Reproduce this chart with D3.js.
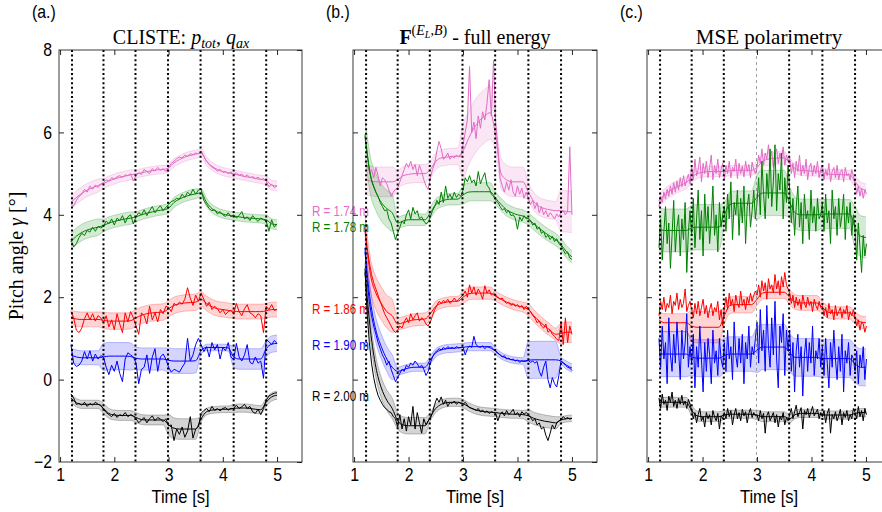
<!DOCTYPE html>
<html>
<head>
<meta charset="utf-8">
<script src="https://cdn.jsdelivr.net/npm/d3@7"></script>
<style>
body { margin: 0; background: #fff; }
svg { display: block; }
</style>
</head>
<body>
<script>
// 时间分段（虚线位置）
const dotTimes = [1.22, 1.8, 2.39, 2.99, 3.59, 4.2, 4.8];
const xTicks = [1, 2, 3, 4, 5];
const yTicks = [-2, 0, 2, 4, 6, 8];
const radii = ["R = 1.74 m", "R = 1.78 m", "R = 1.86 m", "R = 1.90 m", "R = 2.00 m"];
const radiusLabelY = [4.1, 3.71, 1.72, 0.83, -0.39];
const colors = ["#e36bc6", "#008000", "#ff0000", "#0000ff", "#000000"];

// 采样：起点与步长
const rawA = { t0: 1.2, dt: 0.05 };
const rawB = { t0: 1.2, dt: 0.04 };
const rawC = { t0: 1.2, dt: 0.03 };
const fitTimes = d3.range(39).map(i => 1.2 + 0.1 * i);

// ---------- (a.) CLISTE ----------
const aPinkRaw = [4.25,4.22,4.35,4.45,4.5,4.62,4.55,4.7,4.62,4.72,4.66,4.75,
  4.78,4.85,4.82,4.9,4.87,4.92,4.95,4.9,4.97,4.95,5.0,4.82,
  4.95,5.02,4.98,5.1,5.05,5.0,5.12,5.06,5.15,5.08,5.12,5.05,
  5.15,5.25,5.3,5.36,5.4,5.38,5.45,5.42,5.48,5.46,5.5,5.48,
  5.55,5.42,5.3,5.22,5.15,5.12,5.06,5.1,5.03,5.05,5.0,5.04,
  4.98,5.02,4.96,4.99,4.92,4.97,4.9,4.93,4.88,4.91,4.85,4.88,
  4.82,4.68,4.74,4.66,4.7];
const aPinkFit = [4.3,4.42,4.52,4.6,4.66,4.71,4.76,4.82,4.87,4.91,4.94,4.97,4.99,5.02,5.05,5.07,5.09,5.1,5.14,5.26,5.34,5.4,5.44,5.47,5.5,5.3,5.18,5.1,5.05,5.02,4.99,4.96,4.93,4.91,4.88,4.86,4.83,4.72,4.7];
const aPinkBand = [0.16, 0.12, 0.1, 0.1, 0.1, 0.1, 0.12];

const aGreenRaw = [3.4,3.22,3.3,3.45,3.55,3.5,3.62,3.58,3.7,3.6,3.72,3.68,
  3.72,3.85,3.78,3.9,3.75,3.92,3.86,3.98,3.8,3.95,4.0,3.78,
  3.95,4.05,4.0,4.12,3.98,4.1,4.2,4.05,4.15,4.22,4.1,4.18,
  4.25,4.32,4.35,4.4,4.38,4.5,4.42,4.55,4.48,4.62,4.5,4.6,
  4.62,4.35,4.25,4.15,4.1,4.12,4.02,4.08,4.0,3.96,4.05,3.95,
  4.0,3.92,3.98,4.08,3.9,3.95,3.86,3.98,3.9,3.84,3.92,3.88,
  3.85,3.6,3.88,3.7,3.78];
const aGreenFit = [3.35,3.48,3.57,3.63,3.67,3.7,3.74,3.8,3.84,3.87,3.9,3.92,3.95,4.0,4.04,4.07,4.1,4.12,4.16,4.3,4.38,4.44,4.48,4.51,4.53,4.3,4.15,4.07,4.02,3.99,3.97,3.95,3.93,3.92,3.91,3.9,3.88,3.78,3.76];
const aGreenBand = [0.2, 0.15, 0.12, 0.12, 0.1, 0.1, 0.12];

const aRedRaw = [1.65,1.5,1.2,1.14,1.25,1.48,1.62,1.45,1.6,1.42,1.55,1.5,
  1.38,1.55,1.28,1.45,1.21,1.6,1.35,1.14,1.62,1.4,1.65,1.5,
  1.3,1.1,1.62,1.55,1.35,1.78,1.45,1.62,1.4,1.7,1.6,1.78,
  1.75,1.65,1.85,1.8,1.88,1.83,1.95,2.23,1.98,1.8,2.05,1.9,
  2.1,1.95,1.78,1.88,1.7,1.78,1.72,1.62,1.7,1.58,1.65,1.68,
  1.6,1.85,1.65,1.55,1.72,1.82,1.62,1.58,1.5,1.6,1.55,1.14,
  1.78,1.7,1.82,1.68,1.7];
const aRedFit = [1.5,1.47,1.46,1.46,1.46,1.46,1.44,1.42,1.42,1.42,1.42,1.43,1.5,1.56,1.6,1.62,1.63,1.64,1.72,1.8,1.84,1.86,1.87,1.88,1.95,1.85,1.77,1.72,1.7,1.68,1.66,1.65,1.65,1.65,1.65,1.65,1.67,1.7,1.7];
const aRedBand = [0.18, 0.2, 0.2, 0.2, 0.18, 0.18, 0.18];

const aBlueRaw = [0.85,0.4,0.32,0.35,0.45,0.68,0.5,0.7,0.45,0.62,0.5,0.58,
  0.55,0.3,0.12,0.35,0.2,0.45,0.15,-0.05,0.5,0.65,0.6,0.55,
  0.4,-0.1,0.25,0.3,0.6,0.15,0.55,0.75,0.2,0.55,0.62,0.5,
  0.3,0.18,0.25,0.22,0.18,0.3,0.4,1.0,0.45,0.6,0.85,1.0,
  0.85,0.68,0.8,0.55,0.9,0.72,0.85,0.5,0.78,0.7,0.9,0.55,
  0.48,0.88,0.55,0.45,0.6,0.85,0.42,0.38,0.55,0.4,0.45,0.03,
  0.98,0.92,0.85,0.95,0.88];
const aBlueFit = [0.6,0.55,0.53,0.53,0.53,0.53,0.55,0.57,0.57,0.57,0.57,0.56,0.52,0.5,0.5,0.5,0.5,0.5,0.47,0.45,0.45,0.45,0.45,0.46,0.7,0.78,0.78,0.78,0.78,0.77,0.55,0.5,0.5,0.5,0.5,0.5,0.75,0.86,0.88];
const aBlueBand = [0.17, 0.33, 0.27, 0.3, 0.08, 0.25, 0.2];

const aBlackRaw = [-0.35,-0.45,-0.6,-0.58,-0.62,-0.55,-0.65,-0.58,-0.62,-0.55,-0.6,-0.62,
  -0.72,-0.8,-0.85,-0.9,-0.82,-0.92,-0.85,-0.88,-0.8,-0.9,-0.85,-0.88,
  -0.95,-1.05,-0.98,-0.92,-1.05,-0.95,-0.88,-1.0,-0.92,-0.96,-1.02,-0.95,
  -1.12,-1.1,-1.48,-1.2,-1.33,-1.15,-1.4,-1.25,-0.9,-1.42,-1.2,-1.15,
  -0.82,-0.75,-0.7,-0.78,-0.65,-0.75,-0.7,-0.76,-0.7,-0.68,-0.74,-0.7,
  -0.7,-0.62,-0.7,-0.66,-0.6,-0.7,-0.65,-0.78,-0.82,-0.72,-0.85,-0.7,
  -0.5,-0.4,-0.36,-0.33,-0.32];
const aBlackFit = [-0.45,-0.56,-0.6,-0.6,-0.6,-0.6,-0.7,-0.82,-0.86,-0.87,-0.87,-0.87,-0.92,-0.97,-0.98,-0.98,-0.98,-0.98,-1.1,-1.18,-1.2,-1.2,-1.2,-1.2,-0.95,-0.78,-0.74,-0.73,-0.72,-0.72,-0.7,-0.69,-0.69,-0.7,-0.72,-0.73,-0.55,-0.42,-0.38];
const aBlackBand = [0.1, 0.12, 0.12, 0.25, 0.08, 0.1, 0.1];

// ---------- (b.) full energy ----------
const bPinkRaw = [5.3,5.2,5.05,5.1,4.9,5.15,4.95,4.7,4.9,4.85,4.75,4.6,4.45,4.55,4.62,
  4.65,4.8,4.95,5.1,5.25,5.15,5.3,5.1,5.22,4.95,5.2,5.05,4.85,4.7,4.62,
  4.9,5.1,5.25,5.55,5.78,5.6,5.35,5.4,5.5,5.35,5.42,5.38,5.45,5.4,5.42,
  5.7,6.0,6.3,7.6,6.0,6.25,5.85,6.4,6.1,6.5,6.3,6.7,7.28,6.4,7.75,
  6.2,5.65,4.9,4.7,4.55,4.8,4.6,4.85,4.55,4.45,4.7,4.5,4.65,4.4,4.55,
  4.4,4.25,4.35,4.15,4.3,4.05,4.2,4.0,4.1,3.95,4.05,3.98,3.9,4.02,3.95,
  4.05,4.1,4.0,4.08,5.65,4.0];
const bPinkFit = [4.85,4.82,4.8,4.8,4.8,4.8,4.85,4.95,4.98,5.0,5.0,5.0,5.1,5.3,5.38,5.4,5.42,5.42,5.55,5.85,6.1,6.28,6.4,6.48,5.9,5.0,4.85,4.8,4.8,4.8,4.55,4.32,4.2,4.15,4.12,4.1,4.1,4.08,4.07];
const bPinkBand = [0.36, 0.22, 0.2, 0.65, 0.36, 0.22, 0.5];

const bGreenRaw = [5.95,5.5,5.1,4.85,4.7,4.55,4.45,4.3,4.2,4.1,4.12,3.9,3.8,3.6,3.4,
  3.55,3.7,3.85,3.78,4.0,4.12,3.9,4.18,4.02,4.1,3.9,3.95,3.85,3.78,3.82,
  3.95,4.1,4.2,4.35,4.25,4.55,4.3,4.7,4.4,4.5,4.38,4.55,4.42,4.5,4.45,
  4.6,4.9,4.8,4.95,4.78,4.85,4.7,5.05,4.75,4.9,5.02,4.72,4.65,4.5,4.45,
  4.35,4.3,4.2,4.12,4.15,4.05,4.1,3.98,4.0,3.92,3.65,3.95,3.85,3.98,3.9,
  3.92,3.85,3.75,3.8,3.65,3.7,3.55,3.6,3.45,3.5,3.4,3.48,3.35,3.42,3.3,
  3.25,3.15,3.05,3.1,2.95,2.92];
const bGreenFit = [5.9,4.95,4.55,4.3,4.15,4.05,3.8,3.85,3.88,3.88,3.88,3.88,4.05,4.25,4.33,4.37,4.38,4.38,4.48,4.55,4.56,4.56,4.56,4.56,4.4,4.25,4.12,4.05,4.0,3.97,3.9,3.78,3.67,3.57,3.48,3.4,3.28,3.1,2.98];
const bGreenBand = [0.45, 0.14, 0.14, 0.22, 0.15, 0.15, 0.15];

const bRedRaw = [3.7,3.2,2.85,2.55,2.35,2.2,2.05,1.9,1.75,1.6,1.5,1.4,1.3,1.2,1.14,
  1.2,1.3,1.25,1.4,1.5,1.38,1.6,1.45,1.55,1.62,1.42,1.5,1.45,1.35,1.3,
  1.4,1.55,1.7,1.8,1.9,1.85,1.92,1.88,1.95,1.85,1.9,1.98,1.9,1.95,2.0,
  2.05,2.15,2.0,2.3,2.1,2.25,2.05,2.2,2.1,1.95,2.28,2.1,2.18,2.05,2.1,
  2.05,2.0,1.95,1.98,1.9,1.85,1.88,1.8,1.85,1.78,1.82,1.75,1.8,1.7,1.78,
  1.72,1.65,1.55,1.5,1.38,1.42,1.3,1.25,1.35,1.15,1.2,1.1,1.05,0.98,0.95,
  1.4,0.85,1.5,0.9,1.3,1.1];
const bRedFit = [3.6,2.55,2.1,1.85,1.65,1.55,1.35,1.38,1.42,1.45,1.46,1.47,1.6,1.78,1.85,1.88,1.9,1.9,2.0,2.08,2.1,2.1,2.1,2.1,2.02,1.95,1.88,1.83,1.79,1.76,1.7,1.55,1.42,1.3,1.2,1.1,1.12,1.15,1.15];
const bRedBand = [0.4, 0.15, 0.12, 0.15, 0.12, 0.15, 0.25];

const bBlueRaw = [3.2,2.4,1.9,1.55,1.3,1.1,0.9,0.75,0.6,0.5,0.35,0.45,0.25,0.1,-0.05,
  0.05,0.15,0.25,0.2,0.35,0.3,0.4,0.35,0.45,0.38,0.3,0.35,0.25,0.1,0.2,
  0.4,0.55,0.65,0.7,0.75,0.72,0.78,0.74,0.8,0.76,0.78,0.75,0.8,0.77,0.78,
  0.8,0.6,0.75,0.82,0.78,1.05,0.85,0.8,0.78,0.82,0.75,0.8,0.78,0.76,0.72,
  0.7,0.65,0.6,0.55,0.58,0.5,0.52,0.48,0.5,0.45,0.48,0.42,0.46,0.44,0.45,
  0.46,0.42,0.45,0.4,0.44,0.2,0.08,0.3,0.45,0.0,-0.2,0.05,-0.1,-0.18,0.1,
  0.45,0.4,0.35,0.3,0.28,0.22];
const bBlueFit = [3.1,1.9,1.2,0.8,0.5,0.3,0.2,0.24,0.28,0.3,0.3,0.3,0.48,0.65,0.72,0.75,0.76,0.77,0.78,0.8,0.8,0.8,0.8,0.8,0.68,0.58,0.52,0.48,0.46,0.45,0.47,0.48,0.48,0.48,0.48,0.48,0.45,0.35,0.28];
const bBlueBand = [0.3, 0.1, 0.1, 0.1, 0.08, 0.45, 0.1];

const bBlackRaw = [2.7,1.6,0.9,0.4,0.05,-0.2,-0.38,-0.5,-0.6,-0.68,-0.72,-0.78,-0.8,-0.9,-0.95,
  -1.15,-0.85,-1.2,-0.95,-1.25,-0.9,-1.1,-0.65,-1.2,-0.8,-1.05,-1.3,-0.95,-1.1,-1.0,
  -0.95,-0.8,-0.6,-0.45,-0.55,-0.42,-0.6,-0.5,-0.65,-0.55,-0.58,-0.52,-0.6,-0.55,-0.58,
  -0.6,-0.55,-0.62,-0.68,-0.7,-0.72,-0.75,-0.7,-0.78,-0.74,-0.8,-0.76,-0.82,-0.78,-0.8,
  -0.82,-1.0,-0.85,-0.78,-0.88,-0.75,-0.85,-0.8,-0.72,-0.86,-0.8,-0.9,-0.78,-0.84,-0.8,
  -0.85,-0.92,-1.0,-0.95,-1.1,-1.05,-1.2,-1.15,-1.35,-1.48,-1.3,-1.1,-1.2,-1.05,-1.0,
  -0.98,-0.9,-0.95,-0.92,-0.96,-0.94];
const bBlackFit = [2.6,1.2,0.3,-0.2,-0.5,-0.7,-1.0,-1.1,-1.12,-1.12,-1.12,-1.12,-0.9,-0.7,-0.6,-0.56,-0.55,-0.55,-0.58,-0.66,-0.72,-0.76,-0.78,-0.79,-0.8,-0.82,-0.83,-0.84,-0.84,-0.85,-0.88,-0.94,-0.98,-1.01,-1.03,-1.05,-0.98,-0.95,-0.94];
const bBlackBand = [0.25, 0.2, 0.1, 0.1, 0.1, 0.15, 0.08];

// ---------- (c.) MSE ----------
const cPinkRaw = [4.2,4.45,4.3,4.55,4.38,4.62,4.45,4.7,4.5,4.78,4.55,4.82,4.6,4.9,4.68,4.95,4.7,4.85,4.98,4.75,
  5.2,4.85,5.35,4.95,5.1,5.4,4.8,5.25,5.0,5.3,4.9,5.15,5.45,4.85,5.2,5.0,5.35,4.9,5.1,5.25,
  4.85,5.2,5.0,5.3,4.9,5.15,5.05,5.35,4.88,5.25,5.0,5.18,4.92,5.3,5.05,5.22,4.9,5.28,5.1,5.0,
  5.15,5.45,5.25,5.6,5.2,5.5,5.35,5.7,5.3,5.55,5.15,5.48,5.6,5.25,5.5,5.35,5.65,5.2,5.45,5.3,
  5.4,5.0,5.25,4.9,5.3,5.05,5.45,4.95,5.2,5.0,5.35,4.85,5.15,5.25,4.95,5.2,5.0,5.3,4.9,5.1,
  5.2,4.85,5.1,4.95,5.25,4.8,5.05,5.15,4.9,5.2,4.85,5.05,5.1,4.8,5.15,4.95,5.0,4.85,5.1,4.92,
  4.75,4.5,4.7,4.45,4.65,4.4,4.6,4.5];
const cPinkFit = [4.35,4.48,4.58,4.66,4.72,4.78,4.9,5.0,5.03,5.05,5.05,5.05,5.05,5.07,5.08,5.08,5.08,5.08,5.15,5.3,5.35,5.37,5.38,5.38,5.25,5.12,5.08,5.07,5.06,5.06,5.02,4.99,4.98,4.98,4.97,4.97,4.8,4.65,4.6];
const cPinkBand = [0.15, 0.12, 0.12, 0.15, 0.12, 0.12, 0.15];

const cGreenRaw = [3.2,3.9,2.9,3.6,4.2,3.3,3.8,2.7,3.5,4.35,3.1,3.7,4.0,3.0,3.9,3.4,4.3,2.6,3.6,4.1,
  3.5,4.4,3.2,3.9,4.6,3.4,4.1,3.0,4.5,3.6,4.2,3.3,3.9,4.7,3.5,4.0,3.1,4.3,3.7,4.0,
  4.2,3.6,4.5,3.9,4.8,3.4,4.3,4.0,4.6,3.5,4.4,3.8,4.7,3.3,4.2,4.5,3.7,4.1,4.6,3.9,
  4.3,4.9,4.0,5.3,4.5,3.9,5.0,4.4,5.6,4.2,4.8,5.7,4.1,5.0,4.6,5.5,3.9,4.9,4.3,5.2,
  4.6,3.8,4.4,3.5,4.2,4.7,3.7,4.3,3.3,4.5,3.9,4.1,3.4,4.6,3.8,4.2,3.6,4.4,3.9,4.0,
  4.3,3.6,4.5,3.8,4.1,3.3,4.6,3.9,4.2,3.5,4.4,3.7,4.0,4.5,3.4,4.2,3.8,4.3,3.5,4.0,
  3.6,2.9,3.8,3.2,2.6,3.5,3.0,3.3];
const cGreenFit = [3.65,3.62,3.62,3.62,3.62,3.62,3.68,3.7,3.7,3.7,3.7,3.7,4.0,4.25,4.28,4.28,4.28,4.28,4.42,4.53,4.53,4.53,4.53,4.53,4.3,4.05,4.0,4.0,4.0,4.0,4.02,4.02,4.02,4.02,4.02,4.02,3.7,3.48,3.45];
const cGreenBand = [0.52, 0.55, 0.3, 0.55, 0.38, 0.35, 0.5];

const cRedRaw = [1.55,1.9,1.7,2.0,1.65,1.85,1.75,2.05,1.6,1.9,1.8,2.1,1.7,1.95,1.75,1.85,2.2,1.65,1.8,1.9,
  1.7,1.5,1.85,1.6,1.9,1.55,1.75,1.95,1.6,1.8,1.5,1.7,1.85,1.55,1.75,1.65,1.9,1.45,1.7,1.3,
  1.75,2.0,1.7,2.1,1.8,1.95,1.65,2.05,1.85,1.75,2.15,1.8,1.95,1.7,2.0,1.85,2.1,1.9,2.05,2.15,
  2.05,2.3,2.0,2.4,2.15,2.35,1.95,2.45,2.2,2.3,2.1,2.55,2.2,2.4,2.05,2.5,2.25,2.6,2.3,2.2,
  2.1,1.85,2.05,1.75,2.0,1.8,1.95,1.7,2.05,1.85,1.75,2.0,1.8,1.9,1.65,1.95,1.8,1.7,1.9,1.75,
  1.8,1.55,1.75,1.5,1.85,1.6,1.7,1.45,1.8,1.55,1.65,1.75,1.5,1.7,1.6,1.8,1.45,1.65,1.55,1.7,
  1.5,1.3,1.45,1.2,1.4,1.35,1.15,1.3];
const cRedFit = [1.45,1.38,1.38,1.38,1.38,1.38,1.3,1.27,1.27,1.27,1.27,1.27,1.55,1.8,1.82,1.82,1.82,1.82,1.95,2.1,2.12,2.12,2.12,2.12,2.0,1.88,1.86,1.86,1.86,1.86,1.75,1.64,1.62,1.62,1.62,1.62,1.5,1.4,1.38];
const cRedBand = [0.22, 0.38, 0.2, 0.15, 0.18, 0.15, 0.15];

const cBlueRaw = [1.0,0.3,1.3,0.5,0.9,-0.1,1.5,0.6,0.2,1.1,0.4,1.4,0.7,0.0,1.2,0.5,0.9,1.6,0.3,0.8,
  0.4,1.1,-0.2,0.8,0.3,1.3,0.5,-0.3,0.9,0.2,1.0,0.6,-0.1,1.2,0.4,0.7,0.1,1.0,0.5,0.3,
  0.9,0.2,1.2,0.5,0.8,0.0,1.4,0.6,0.3,1.0,0.4,1.1,-0.1,0.9,0.5,1.3,0.3,0.8,0.6,1.0,
  1.4,0.4,1.7,0.7,1.2,0.2,1.8,0.8,0.3,1.5,0.6,1.9,0.5,-0.2,1.3,0.9,1.6,0.1,1.2,0.7,
  1.2,0.2,0.9,-0.3,0.7,1.1,0.3,0.8,-0.4,0.6,1.0,0.2,0.9,0.4,1.3,0.1,0.7,0.5,1.0,0.3,
  0.8,0.1,1.0,0.4,-0.2,0.9,0.3,1.2,0.5,0.0,0.8,0.2,1.1,-0.3,0.7,0.4,0.9,0.1,0.6,0.5,
  0.2,0.7,-0.1,0.6,0.3,0.8,0.0,0.5];
const cBlueFit = [0.62,0.62,0.62,0.62,0.62,0.62,0.55,0.52,0.52,0.52,0.52,0.52,0.58,0.62,0.62,0.62,0.62,0.62,0.72,0.79,0.79,0.79,0.79,0.79,0.65,0.54,0.54,0.54,0.54,0.54,0.51,0.51,0.51,0.51,0.51,0.51,0.38,0.3,0.3];
const cBlueBand = [0.55, 0.45, 0.42, 0.55, 0.46, 0.46, 0.45];

const cBlackRaw = [-0.45,-0.7,-0.35,-0.6,-0.5,-0.75,-0.4,-0.55,-0.3,-0.65,-0.5,-0.7,-0.45,-0.6,-0.38,-0.62,-0.52,-0.7,-0.48,-0.6,
  -0.75,-0.95,-0.8,-1.05,-0.85,-0.7,-1.0,-0.9,-1.15,-0.8,-0.95,-0.85,-1.1,-0.75,-0.9,-1.0,-0.82,-1.2,-0.88,-0.95,
  -0.8,-0.95,-0.7,-0.9,-0.75,-1.1,-0.85,-0.7,-0.95,-0.8,-1.0,-0.72,-0.88,-0.78,-1.05,-0.82,-0.7,-0.92,-0.8,-0.88,
  -0.85,-1.0,-0.75,-0.95,-0.82,-1.3,-0.88,-0.78,-1.0,-0.9,-0.8,-1.05,-0.85,-1.15,-0.9,-0.98,-0.8,-1.1,-0.92,-1.0,
  -0.85,-0.7,-0.95,-0.78,-0.62,-0.9,-0.8,-0.68,-1.2,-0.75,-0.85,-0.7,-0.92,-0.78,-0.65,-0.88,-0.8,-0.72,-0.95,-0.8,
  -0.9,-0.75,-1.05,-0.82,-0.7,-1.3,-0.85,-0.95,-0.78,-1.0,-0.88,-0.72,-1.1,-0.8,-0.92,-0.75,-1.0,-0.85,-0.95,-0.7,
  -0.8,-0.95,-0.65,-0.9,-0.75,-1.0,-0.7,-0.85];
const cBlackFit = [-0.55,-0.55,-0.55,-0.55,-0.55,-0.55,-0.75,-0.88,-0.9,-0.9,-0.9,-0.9,-0.86,-0.84,-0.84,-0.84,-0.84,-0.84,-0.86,-0.9,-0.9,-0.9,-0.9,-0.9,-0.95,-0.85,-0.82,-0.82,-0.82,-0.82,-0.86,-0.86,-0.86,-0.86,-0.86,-0.86,-0.82,-0.8,-0.8];
const cBlackBand = [0.12, 0.12, 0.1, 0.12, 0.1, 0.1, 0.1];

const panels = [
  { key: "a", range: [59, 302], sampling: rawA, label: "(a.)",
    raw: [aPinkRaw, aGreenRaw, aRedRaw, aBlueRaw, aBlackRaw],
    fit: [aPinkFit, aGreenFit, aRedFit, aBlueFit, aBlackFit],
    band: [aPinkBand, aGreenBand, aRedBand, aBlueBand, aBlackBand] },
  { key: "b", range: [353, 597], sampling: rawB, label: "(b.)",
    raw: [bPinkRaw, bGreenRaw, bRedRaw, bBlueRaw, bBlackRaw],
    fit: [bPinkFit, bGreenFit, bRedFit, bBlueFit, bBlackFit],
    band: [bPinkBand, bGreenBand, bRedBand, bBlueBand, bBlackBand] },
  { key: "c", range: [647, 891], sampling: rawC, label: "(c.)",
    raw: [cPinkRaw, cGreenRaw, cRedRaw, cBlueRaw, cBlackRaw],
    fit: [cPinkFit, cGreenFit, cRedFit, cBlueFit, cBlackFit],
    band: [cPinkBand, cGreenBand, cRedBand, cBlueBand, cBlackBand] }
];

const sans = "'Liberation Sans', Arial, Helvetica, sans-serif";
const serif = "'Liberation Serif', 'Times New Roman', serif";
const narrow = 0.88; // 窄体字的横向缩放

const svg = d3.select("body").append("svg").attr("width", 882).attr("height", 512)
  .attr("font-family", sans);
const y = d3.scaleLinear().domain([-2, 8]).range([462, 50]);

function segIndex(t) {
  let k = 0;
  for (let j = 1; j < dotTimes.length; j++) if (t >= dotTimes[j] - 1e-6) k = j;
  return k;
}

// 窄字体文字
function narrowText(sel, x, yy, str, size, anchor, sx) {
  return sel.append("text").attr("transform", `translate(${x},${yy}) scale(${sx || narrow},1)`)
    .attr("text-anchor", anchor || "start").attr("font-size", size).text(str);
}

panels.forEach(p => {
  const x = d3.scaleLinear().domain([0.98, 5.46]).range(p.range);
  const g = svg.append("g").attr("class", "panel-" + p.key);
  const clipId = "clip-" + p.key;
  svg.append("clipPath").attr("id", clipId).append("rect")
    .attr("x", x.range()[0]).attr("y", y.range()[1])
    .attr("width", x.range()[1] - x.range()[0]).attr("height", y.range()[0] - y.range()[1]);
  const plot = g.append("g").attr("clip-path", `url(#${clipId})`);

  const area = d3.area().x(d => x(d.t)).y0(d => y(d.v - d.hw)).y1(d => y(d.v + d.hw)).curve(d3.curveMonotoneX);
  const edgeLo = d3.line().x(d => x(d.t)).y(d => y(d.v - d.hw)).curve(d3.curveMonotoneX);
  const edgeHi = d3.line().x(d => x(d.t)).y(d => y(d.v + d.hw)).curve(d3.curveMonotoneX);
  const line = d3.line().x(d => x(d.t)).y(d => y(d.v));
  const smooth = d3.line().x(d => x(d.t)).y(d => y(d.v)).curve(d3.curveMonotoneX);

  // 误差带
  p.fit.forEach((fit, s) => {
    const pts = fitTimes.map((t, i) => ({ t, v: fit[i], hw: p.band[s][segIndex(t)] }));
    plot.append("path").datum(pts).attr("d", area)
      .attr("fill", colors[s]).attr("fill-opacity", 0.17);
    [edgeLo, edgeHi].forEach(e => plot.append("path").datum(pts).attr("d", e)
      .attr("fill", "none").attr("stroke", colors[s]).attr("stroke-opacity", 0.3).attr("stroke-width", 0.8));
  });

  // 原始数据 + 拟合
  p.raw.forEach((raw, s) => {
    const pts = raw.map((v, i) => ({ t: p.sampling.t0 + p.sampling.dt * i, v }));
    plot.append("path").datum(pts).attr("d", line)
      .attr("fill", "none").attr("stroke", colors[s]).attr("stroke-width", 1).attr("stroke-linejoin", "round");
    const fpts = fitTimes.map((t, i) => ({ t, v: p.fit[s][i] }));
    plot.append("path").datum(fpts).attr("d", smooth)
      .attr("fill", "none").attr("stroke", colors[s]).attr("stroke-width", 1);
  });

  // 虚线
  const thin = d => p.key === "c" && Math.abs(d - 2.99) < 0.01;
  plot.append("g").selectAll("line").data(dotTimes).join("line")
    .attr("x1", d => x(d)).attr("x2", d => x(d))
    .attr("y1", y.range()[1]).attr("y2", y.range()[0])
    .attr("stroke", d => thin(d) ? "#777" : "#000")
    .attr("stroke-width", d => thin(d) ? 0.7 : 2)
    .attr("stroke-dasharray", d => thin(d) ? "3,3" : "2,2.6");

  // 坐标轴（刻度朝内）
  const axColor = "#262626";
  const gb = g.append("g").attr("transform", `translate(0,${y.range()[0]})`)
    .call(d3.axisBottom(x).tickValues(xTicks).tickSize(-5).tickPadding(6).tickFormat(d3.format("d")));
  const gt = g.append("g").attr("transform", `translate(0,${y.range()[1]})`)
    .call(d3.axisTop(x).tickValues(xTicks).tickSize(-5).tickFormat(""));
  const gl = g.append("g").attr("transform", `translate(${x.range()[0]},0)`)
    .call(d3.axisLeft(y).tickValues(yTicks).tickSize(-5).tickPadding(8).tickFormat(p.key === "a" ? d3.format("d") : ""));
  const gr = g.append("g").attr("transform", `translate(${x.range()[1]},0)`)
    .call(d3.axisRight(y).tickValues(yTicks).tickSize(-5).tickFormat(""));
  [gb, gt, gl, gr].forEach(a => {
    a.select(".domain").remove();
    a.attr("color", axColor);
    a.selectAll("text").attr("font-size", 18).attr("font-family", sans).attr("fill", "#000")
      .attr("transform", `scale(${narrow},1)`);
  });
  gl.selectAll(".tick").filter(d => d === 8 || d === -2).select("line").remove();
  g.append("rect").attr("x", x.range()[0]).attr("y", y.range()[1])
    .attr("width", x.range()[1] - x.range()[0]).attr("height", y.range()[0] - y.range()[1])
    .attr("fill", "none").attr("stroke", axColor).attr("stroke-width", 0.9);

  // 面板标签与 x 轴标题
  narrowText(svg, x.range()[0] - 27, 18, p.label, 18);
  narrowText(svg, (x.range()[0] + x.range()[1]) / 2, 503, "Time [s]", 18, "middle", 0.92);

  if (p.key === "a") {
    svg.append("g").selectAll("text").data(radii).join("text")
      .attr("x", x.range()[1] + 10).attr("y", (d, i) => y(radiusLabelY[i]) + 5)
      .attr("font-size", 15).attr("textLength", 57).attr("lengthAdjust", "spacingAndGlyphs")
      .attr("fill", (d, i) => colors[i]).text(d => d);
  }
});

// 标题
const t1 = svg.append("text").attr("x", 181).attr("y", 44).attr("text-anchor", "middle")
  .attr("font-family", serif).attr("font-size", 20);
t1.append("tspan").text("CLISTE: ");
t1.append("tspan").attr("font-style", "italic").text("p");
t1.append("tspan").attr("font-style", "italic").attr("font-size", 14).attr("dy", 4).text("tot");
t1.append("tspan").attr("dy", -4).text(", ");
t1.append("tspan").attr("font-style", "italic").text("q");
t1.append("tspan").attr("font-style", "italic").attr("font-size", 14).attr("dy", 4).text("ax");

const t2 = svg.append("text").attr("x", 475).attr("y", 44).attr("text-anchor", "middle")
  .attr("font-family", serif).attr("font-size", 20);
t2.append("tspan").attr("font-weight", "bold").text("F");
t2.append("tspan").attr("font-size", 14).attr("dy", -9).text("(");
t2.append("tspan").attr("font-size", 14).attr("font-style", "italic").text("E");
t2.append("tspan").attr("font-size", 10).attr("font-style", "italic").attr("dy", 3).text("L");
t2.append("tspan").attr("font-size", 14).attr("dy", -3).text(",");
t2.append("tspan").attr("font-size", 14).attr("font-style", "italic").text("B");
t2.append("tspan").attr("font-size", 14).text(")");
t2.append("tspan").attr("dy", 9).text(" - full energy");

svg.append("text").attr("x", 769).attr("y", 44).attr("text-anchor", "middle")
  .attr("font-family", serif).attr("font-size", 21).text("MSE polarimetry");

const yl = svg.append("text").attr("transform", "translate(23,256) rotate(-90)")
  .attr("text-anchor", "middle").attr("font-family", serif).attr("font-size", 20);
yl.append("tspan").text("Pitch angle ");
yl.append("tspan").attr("font-style", "italic").text("γ");
yl.append("tspan").text(" [°]");
</script>
</body>
</html>
